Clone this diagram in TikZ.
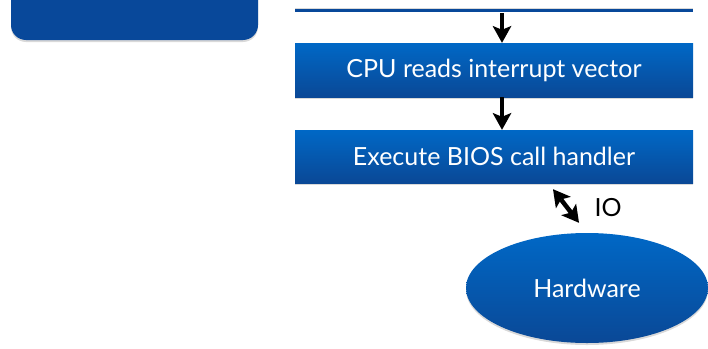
\documentclass[tikz,border=0pt]{standalone}
\usepackage{fontspec}
\setmainfont{Lato}
\usetikzlibrary{shadows,arrows.meta,shapes.geometric}
\definecolor{topblue}{RGB}{0,104,198}
\definecolor{botblue}{RGB}{10,72,150}
\definecolor{flatblue}{RGB}{8,72,154}
\begin{document}
\begin{tikzpicture}[x=1pt,y=-1pt,
  shade/.style={drop shadow={opacity=0.3,shadow xshift=0pt,shadow yshift=-2pt}},
  txt/.style={font=\fontsize{25}{29}\selectfont},
  stepbox/.style={rectangle, minimum width=398pt, minimum height=54pt, inner sep=0pt,
    top color=topblue, bottom color=botblue, draw=none, shade,
    text=white, txt},
  mytip/.tip={Stealth[length=17pt,width=19pt,inset=4pt,line width=0pt]},
  arr/.style={-mytip, line width=4.5pt, black},
  dbl/.style={mytip-mytip, line width=4.5pt, black}
]
\useasboundingbox (0,0) rectangle (708,348);
\node[rectangle, rounded corners=15pt, minimum width=247pt, minimum height=70pt, fill=flatblue, shade] (left) at (134.5,5) {};
\node[rectangle, minimum width=398pt, minimum height=3pt, inner sep=0pt, fill=flatblue, drop shadow={opacity=0.3,shadow xshift=0pt,shadow yshift=1pt}] (topbox) at (494,10.5) {};
\node[stepbox] (cpu) at (494,70) {CPU reads interrupt vector};
\node[stepbox, minimum height=53pt] (exec) at (494,156.5) {Execute BIOS call handler};
\node[ellipse, minimum width=242pt, minimum height=110pt, inner sep=0pt, top color=topblue, bottom color=botblue, shade, text=white, txt] (hw) at (587,288) {Hardware};
\draw[arr] ([xshift=8pt,yshift=-1pt]topbox.south) -- ([xshift=8pt]cpu.north);
\draw[arr] ([xshift=8pt]cpu.south) -- ([xshift=8pt]exec.north);
\draw[dbl] ([xshift=59pt,yshift=-6pt]exec.south) -- ([xshift=-8pt,yshift=10pt]hw.north);
\node[txt, inner sep=0pt] (io) at (608,208) {IO};
\end{tikzpicture}
\end{document}
